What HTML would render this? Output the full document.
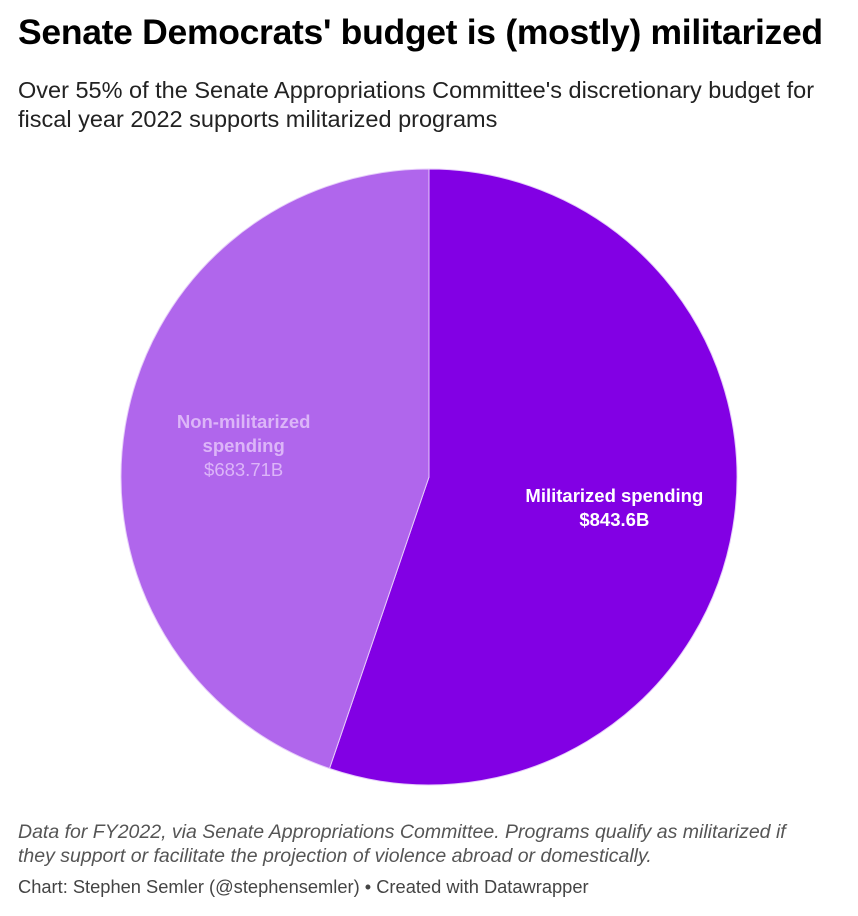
<!DOCTYPE html>
<html><head><meta charset="utf-8"><style>
body{margin:0;background:#fff;width:858px;height:916px;overflow:hidden;font-family:"Liberation Sans",sans-serif;}
h1{position:absolute;left:18px;top:12px;margin:0;font-size:35.5px;font-weight:bold;color:#000;letter-spacing:-0.3px;white-space:nowrap;}
.sub{position:absolute;left:18px;top:76px;font-size:23.5px;line-height:29px;color:#222;width:830px;}
.note{position:absolute;left:18px;top:820px;font-size:19.5px;line-height:24px;color:#555;font-style:italic;width:795px;}
.credit{position:absolute;left:18px;top:876px;font-size:18.3px;color:#444;}
svg{position:absolute;left:0;top:0;}
</style></head><body>
<h1>Senate Democrats' budget is (mostly) militarized</h1>
<div class="sub">Over 55% of the Senate Appropriations Committee's discretionary budget for fiscal year 2022 supports militarized programs</div>
<svg id="chart" width="858" height="916"></svg>
<div class="note">Data for FY2022, via Senate Appropriations Committee. Programs qualify as militarized if<br>they support or facilitate the projection of violence abroad or domestically.</div>
<div class="credit">Chart: Stephen Semler (@stephensemler) • Created with Datawrapper</div>
<script>
const categories=["Militarized spending","Non-militarized spending"];
const values=[843.6,683.71];
const valueLabels=["$843.6B","$683.71B"];
const colors=["#8200e4","#b066ec"];
const svg=document.getElementById('chart');
const NS="http://www.w3.org/2000/svg";
const cx=429,cy=477,r=308;
const total=values.reduce((a,b)=>a+b,0);
function pt(a,rr){return [cx+rr*Math.sin(a),cy-rr*Math.cos(a)];}
let start=0;
values.forEach((v,i)=>{
  const ang=v/total*2*Math.PI,end=start+ang;
  const p0=pt(start,r),p1=pt(end,r);
  const large=ang>Math.PI?1:0;
  const path=document.createElementNS(NS,'path');
  path.setAttribute('d',`M${cx},${cy}L${p0[0]},${p0[1]}A${r},${r} 0 ${large} 1 ${p1[0]},${p1[1]}Z`);
  path.setAttribute('fill',colors[i]);
  path.setAttribute('stroke','#e6ccfa');
  path.setAttribute('stroke-width','1');
  
  
  svg.appendChild(path);
  const mid=(start+end)/2;
  const lp=pt(mid,r*0.61);
  const g=document.createElementNS(NS,'text');
  
  
  g.setAttribute('text-anchor','middle');
  g.setAttribute('font-size','18.5');
  g.setAttribute('font-family','Liberation Sans, sans-serif');
  const fill=i===0?'#ffffff':'#dcb5f8';
  g.setAttribute('fill',fill);
  const words=categories[i].split(' ');
  const lines=i===0?[categories[i]]:[words[0],words.slice(1).join(' ')];
  const all=lines.concat([valueLabels[i]]);
  const y0=lp[1]-(all.length-1)*24/2+6;
  all.forEach((t,j)=>{
    const ts=document.createElementNS(NS,'tspan');
    ts.setAttribute('x',lp[0]);
    ts.setAttribute('y',y0+j*24);
    if(j<lines.length||i===0)ts.setAttribute('font-weight','bold');
    ts.textContent=t;
    g.appendChild(ts);
  });
  svg.appendChild(g);
  start=end;
});
</script>
</body></html>
